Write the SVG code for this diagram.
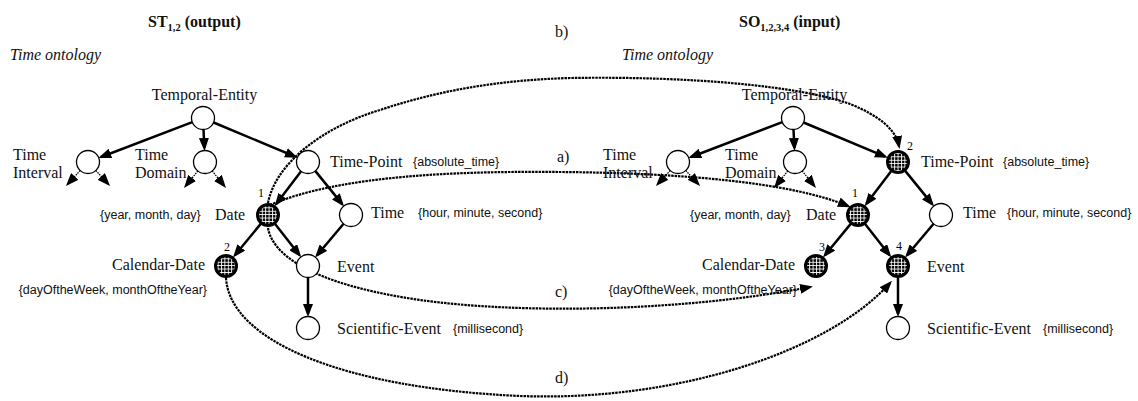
<svg xmlns="http://www.w3.org/2000/svg" width="1138" height="401" viewBox="0 0 1138 401">
  <style>
    .serif { font-family: "Liberation Serif", "Times New Roman", serif; font-size: 16px; fill: #111; }
    .title { font-family: "Liberation Serif", "Times New Roman", serif; font-size: 16px; font-weight: bold; fill: #111; }
    .sub { font-size: 10.5px; }
    .ital { font-family: "Liberation Serif", "Times New Roman", serif; font-size: 16px; font-style: italic; fill: #111; }
    .attr { font-family: "Liberation Sans", Arial, sans-serif; font-size: 12.5px; fill: #111; }
    .num { font-family: "Liberation Serif", "Times New Roman", serif; font-size: 12px; fill: #000; text-anchor: middle; }
    .open { fill: #fff; stroke: #000; stroke-width: 1.3; }
    .hatched { fill: url(#grid); stroke: #000; stroke-width: 3; }
    .edge { fill: none; stroke: #000; stroke-width: 2.5; marker-end: url(#ah); }
    .stub { fill: none; stroke: #000; stroke-width: 1.3; stroke-dasharray: 1.5 1; marker-end: url(#ah); }
    .map { fill: none; stroke: #000; stroke-width: 2.2; stroke-dasharray: 2.5 0.9; marker-end: url(#ah); }
  </style>
  <defs>
    <marker id="ah" markerUnits="userSpaceOnUse" markerWidth="13" markerHeight="10" refX="10" refY="5" orient="auto" viewBox="0 0 13 10">
      <path d="M0,0L13,5L0,10z" fill="#000"/>
    </marker>
    <pattern id="grid" width="3.4" height="3.4" patternUnits="userSpaceOnUse">
      <rect width="3.4" height="3.4" fill="#000"/>
      <path d="M0,0.5H3.4M0.5,0V3.4" stroke="#fff" stroke-width="0.9"/>
    </pattern>
  </defs>
  <rect width="1138" height="401" fill="#fff"/>

  <!-- headings -->
  <text class="title" x="148" y="27">ST<tspan class="sub" dy="4">1,2</tspan><tspan dy="-4"> (output)</tspan></text>
  <text class="ital" x="10" y="60">Time ontology</text>
  <text class="title" x="739" y="27">SO<tspan class="sub" dy="4">1,2,3,4</tspan><tspan dy="-4"> (input)</tspan></text>
  <text class="ital" x="622" y="60">Time ontology</text>

  <!-- connectors -->
  <g id="connectors">
    <!-- output ontology hierarchy -->
    <path class="edge" d="M192.3,122.1L101.1,157"/>
    <path class="edge" d="M203.5,129.5L204.4,148"/>
    <path class="edge" d="M213.6,122.5L295.1,156.6"/>
    <path class="edge" d="M301.1,171.2L276.4,203.8"/>
    <path class="edge" d="M315.2,170.9L342.2,204.1"/>
    <path class="edge" d="M260.7,223.9L234.9,255.2"/>
    <path class="edge" d="M275.1,224.1L299.4,255"/>
    <path class="edge" d="M343.6,223.8L317,255.3"/>
    <path class="edge" d="M308,277.5L308,314"/>
    <path class="stub" d="M80.2,170.5L68,183.8"/>
    <path class="stub" d="M95.8,170.5L108,183.8"/>
    <path class="stub" d="M197.8,170.9L185.9,185.7"/>
    <path class="stub" d="M212.2,170.9L224.1,185.7"/>
    <!-- input ontology hierarchy -->
    <path class="edge" d="M782.3,122.1L691.1,157"/>
    <path class="edge" d="M793.5,129.5L794.4,148"/>
    <path class="edge" d="M803.6,122.5L885.1,156.6"/>
    <path class="edge" d="M891.1,171.2L866.4,203.8"/>
    <path class="edge" d="M905.2,170.9L932.2,204.1"/>
    <path class="edge" d="M850.7,223.9L824.9,255.2"/>
    <path class="edge" d="M865.1,224.1L889.4,255"/>
    <path class="edge" d="M933.6,223.8L907,255.3"/>
    <path class="edge" d="M898,277.5L898,314"/>
    <path class="stub" d="M670.2,170.5L658,183.8"/>
    <path class="stub" d="M685.8,170.5L698,183.8"/>
    <path class="stub" d="M787.8,170.9L775.9,185.7"/>
    <path class="stub" d="M802.2,170.9L814.1,185.7"/>
    <!-- mappings a) to d) -->
    <path id="map-a" class="map" d="M270,205C340,175 460,171 560,172C680,173 790,182 848,206"/>
    <path id="map-b" class="map" d="M268,203C275,165 320,128 380,110C440,90 500,80 570,78C690,76 800,86 850,104C880,116 896,130 899,146"/>
    <path id="map-c" class="map" d="M268,228C274,262 330,287 420,300C520,314 680,312 810,287"/>
    <path id="map-d" class="map" d="M226,278C230,340 340,388 520,396C680,402 830,350 890,283"/>
    <text class="serif" x="557" y="162">a)</text>
    <text class="serif" x="555" y="37">b)</text>
    <text class="serif" x="555" y="297">c)</text>
    <text class="serif" x="555" y="383">d)</text>
  </g>

  <!-- output ontology nodes -->
  <g id="st-temporal-entity">
    <circle class="open" cx="203" cy="118" r="11.5"/>
    <text class="serif" x="204.5" y="100" text-anchor="middle">Temporal-Entity</text>
  </g>
  <g id="st-time-interval">
    <circle class="open" cx="88" cy="162" r="11.5"/>
    <text class="serif" x="13" y="160">Time</text>
    <text class="serif" x="13" y="178">Interval</text>
  </g>
  <g id="st-time-domain">
    <circle class="open" cx="205" cy="162" r="11.5"/>
    <text class="serif" x="135" y="160">Time</text>
    <text class="serif" x="135" y="178">Domain</text>
  </g>
  <g id="st-time-point">
    <circle class="open" cx="308" cy="162" r="11.5"/>
    <text class="serif" x="330" y="167">Time-Point</text>
    <text class="attr" x="413" y="166">{absolute_time}</text>
  </g>
  <g id="st-date">
    <circle class="hatched" cx="268" cy="215" r="10.5"/>
    <text class="num" x="261" y="197">1</text>
    <text class="serif" x="215" y="220">Date</text>
    <text class="attr" x="100" y="219">{year, month, day}</text>
  </g>
  <g id="st-time">
    <circle class="open" cx="351" cy="215" r="11.5"/>
    <text class="serif" x="371" y="218">Time</text>
    <text class="attr" x="418" y="217">{hour, minute, second}</text>
  </g>
  <g id="st-calendar-date">
    <circle class="hatched" cx="226" cy="266" r="10.5"/>
    <text class="num" x="227" y="251">2</text>
    <text class="serif" x="205" y="270" text-anchor="end">Calendar-Date</text>
    <text class="attr" x="207" y="294" text-anchor="end">{dayOftheWeek, monthOftheYear}</text>
  </g>
  <g id="st-event">
    <circle class="open" cx="308" cy="266" r="11.5"/>
    <text class="serif" x="337" y="272">Event</text>
  </g>
  <g id="st-scientific-event">
    <circle class="open" cx="308" cy="328" r="11.5"/>
    <text class="serif" x="337" y="334">Scientific-Event</text>
    <text class="attr" x="453" y="333">{millisecond}</text>
  </g>

  <!-- input ontology nodes -->
  <g id="so-temporal-entity">
    <circle class="open" cx="793" cy="118" r="11.5"/>
    <text class="serif" x="794.5" y="100" text-anchor="middle">Temporal-Entity</text>
  </g>
  <g id="so-time-interval">
    <circle class="open" cx="678" cy="162" r="11.5"/>
    <text class="serif" x="603" y="160">Time</text>
    <text class="serif" x="603" y="178">Interval</text>
  </g>
  <g id="so-time-domain">
    <circle class="open" cx="795" cy="162" r="11.5"/>
    <text class="serif" x="725" y="160">Time</text>
    <text class="serif" x="725" y="178">Domain</text>
  </g>
  <g id="so-time-point">
    <circle class="hatched" cx="898" cy="162" r="10.5"/>
    <text class="num" x="910" y="150">2</text>
    <text class="serif" x="921" y="167">Time-Point</text>
    <text class="attr" x="1003" y="166">{absolute_time}</text>
  </g>
  <g id="so-date">
    <circle class="hatched" cx="858" cy="215" r="10.5"/>
    <text class="num" x="855" y="197">1</text>
    <text class="serif" x="806" y="220">Date</text>
    <text class="attr" x="690" y="219">{year, month, day}</text>
  </g>
  <g id="so-time">
    <circle class="open" cx="941" cy="215" r="11.5"/>
    <text class="serif" x="963" y="218">Time</text>
    <text class="attr" x="1007" y="217">{hour, minute, second}</text>
  </g>
  <g id="so-calendar-date">
    <circle class="hatched" cx="816" cy="266" r="10.5"/>
    <text class="num" x="822" y="251">3</text>
    <text class="serif" x="795" y="270" text-anchor="end">Calendar-Date</text>
    <text class="attr" x="797" y="294" text-anchor="end">{dayOftheWeek, monthOftheYear}</text>
  </g>
  <g id="so-event">
    <circle class="hatched" cx="898" cy="266" r="10.5"/>
    <text class="num" x="899" y="250">4</text>
    <text class="serif" x="927" y="272">Event</text>
  </g>
  <g id="so-scientific-event">
    <circle class="open" cx="898" cy="328" r="11.5"/>
    <text class="serif" x="927" y="334">Scientific-Event</text>
    <text class="attr" x="1043" y="333">{millisecond}</text>
  </g>
</svg>
